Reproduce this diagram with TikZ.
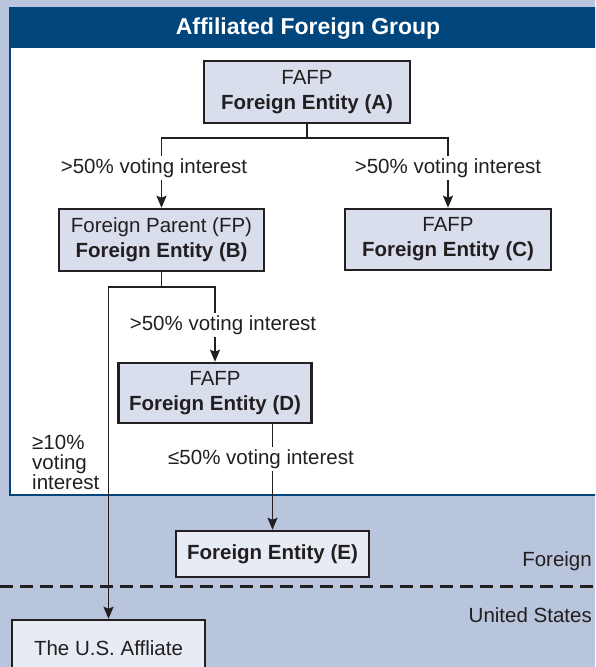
\documentclass[tikz,border=0pt]{standalone}
\usepackage{fontspec}
\setmainfont{Liberation Sans}
\usetikzlibrary{arrows.meta}
\definecolor{bgblue}{HTML}{B8C5DC}
\definecolor{titleblue}{HTML}{00457C}
\definecolor{boxfill}{HTML}{D9DEED}
\definecolor{boxlight}{HTML}{E7EBF4}
\definecolor{inkgray}{HTML}{231F20}
\begin{document}
\begin{tikzpicture}[x=1pt,y=1pt,yscale=-1,xscale=1,
  entity/.style={draw=inkgray,line width=2.5pt,fill=boxfill,text=inkgray,align=center,inner sep=0pt,font=\fontsize{20.5}{25}\selectfont},
  lbl/.style={text=inkgray,inner sep=2pt,font=\fontsize{20.5}{20}\selectfont},
  conn/.style={draw=inkgray,line width=1.8pt},
  >={Stealth[length=12pt,width=10pt,inset=2pt]}]
\clip (0,0) rectangle (595,667);
%Shape: Background
\fill[bgblue] (0,0) rectangle (595,667);
%Shape: Affiliated group frame
\draw[draw=titleblue,line width=2pt,fill=white] (10,8) rectangle (602,495);
\fill[titleblue] (10,8) rectangle (602,48);
% Text Node
\node[text=white,font=\fontsize{23}{26}\selectfont\bfseries] (title) at (308,29) {Affiliated Foreign Group};

%Shape: Entities
\node[entity,minimum width=206,minimum height=62] (A) at (307,92) {FAFP\\\textbf{Foreign Entity (A)}};
\node[entity,minimum width=205,minimum height=62] (B) at (161.5,240) {Foreign Parent (FP)\\\textbf{Foreign Entity (B)}};
\node[entity,minimum width=206,minimum height=61] (C) at (448,239.5) {FAFP\\\textbf{Foreign Entity (C)}};
\node[entity,minimum width=193,minimum height=60] (D) at (215,393) {FAFP\\\textbf{Foreign Entity (D)}};
\node[entity,fill=boxlight,minimum width=193,minimum height=46] (E) at (272.5,554) {\textbf{Foreign Entity (E)}};
\node[entity,fill=boxlight,minimum width=193,minimum height=56] (US) at (108.5,648) {The U.S. Affliate};

% Text Node
\node[lbl] (labAB) at (154,168) {>50\% voting interest};
\node[lbl] (labAC) at (448,168) {>50\% voting interest};
\node[lbl] (labBD) at (223,325) {>50\% voting interest};
\node[lbl] (labDE) at (261,459) {≤50\% voting interest};
\node[lbl,anchor=north west,align=left] (labBU) at (30,433) {≥10\%\\voting\\interest};
\node[lbl,anchor=east] (foreign) at (594,561) {Foreign};
\node[lbl,anchor=east] (usa) at (594,615) {United States};

%Shape: Border line
\coordinate (lineW) at (0,586);
\coordinate (lineE) at (595,586);
\draw[draw=inkgray,line width=3pt,dash pattern=on 13pt off 7pt] (lineW) -- (lineE);

% Connectors
\draw[conn] (A.south) -- ++(0,14) coordinate (splitA);
\draw[conn] (labAB.north -| B.north) |- (splitA) -| (labAC.north -| C.north);
\draw[conn,->] (labAB.south -| B.north) -- (B.north);
\draw[conn,->] (labAC.south -| C.north) -- (C.north);
\draw[conn] (B.south) -- ++(0,15) coordinate (splitB);
\draw[conn,->] (labBD.north -| D.north) |- (splitB) -| (US.north);
\draw[conn,->] (labBD.south -| D.north) -- (D.north);
\draw[conn] (D.south -| E.north) -- (labDE.north -| E.north);
\draw[conn,->] (labDE.south -| E.north) -- (E.north);
\end{tikzpicture}
\end{document}
